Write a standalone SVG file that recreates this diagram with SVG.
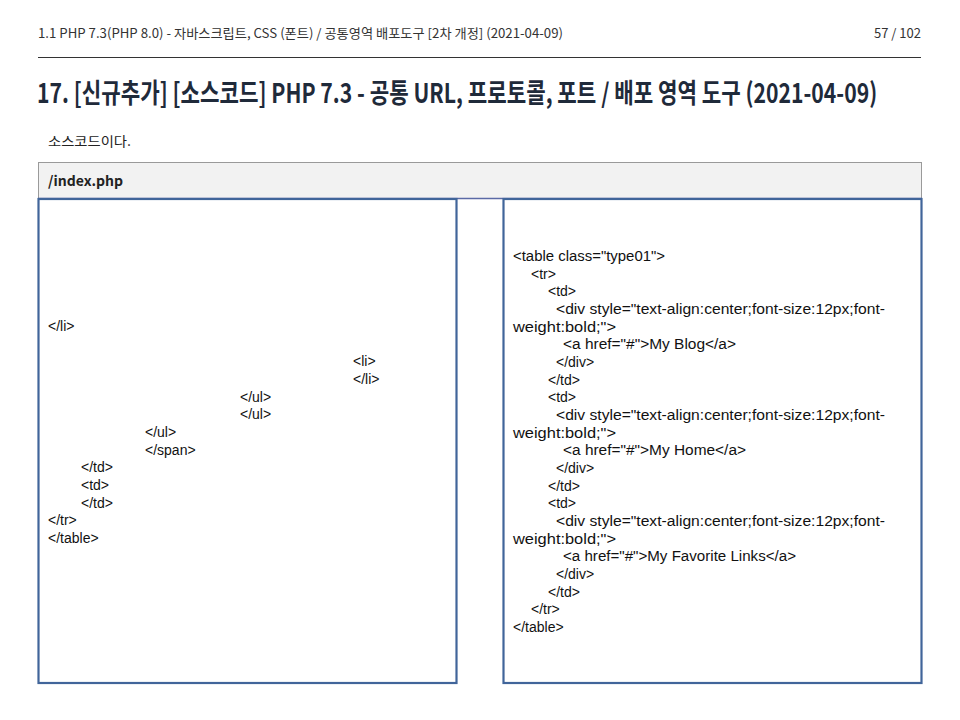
<svg xmlns="http://www.w3.org/2000/svg" width="960" height="720" viewBox="0 0 960 720">
<style>
.hdr{font-family:"Noto Sans CJK KR","Noto Sans",sans-serif;font-size:13px;fill:#333}
.title{font-family:"Noto Sans CJK KR","Noto Sans",sans-serif;font-size:27px;font-weight:bold;fill:#1f2a3a}
.sub{font-family:"Noto Sans CJK KR","Noto Sans",sans-serif;font-size:13px;fill:#222}
.fname{font-family:"Noto Sans CJK KR","Noto Sans",sans-serif;font-size:14px;font-weight:bold;fill:#222}
.code{font-family:"Liberation Sans",Arial,sans-serif;font-size:14px;fill:#111}
.panel{fill:#ffffff;stroke:#41659a;stroke-width:2.2}
</style>
<rect width="960" height="720" fill="#ffffff"/>
<g id="page-header">
<text class="hdr" x="38" y="38" textLength="525" lengthAdjust="spacingAndGlyphs">1.1 PHP 7.3(PHP 8.0) - 자바스크립트, CSS (폰트) / 공통영역 배포도구 [2차 개정] (2021-04-09)</text>
<text class="hdr" x="921" y="38" text-anchor="end">57 / 102</text>
<line x1="38" y1="57.5" x2="921" y2="57.5" stroke="#333" stroke-width="1"/>
</g>
<g id="title">
<text class="title" transform="translate(37,103) scale(0.86,1)" x="0" y="0" textLength="977" lengthAdjust="spacingAndGlyphs">17. [신규추가] [소스코드] PHP 7.3 - 공통 URL, 프로토콜, 포트 / 배포 영역 도구 (2021-04-09)</text>
</g>
<g id="subtitle">
<text class="sub" x="48" y="146" textLength="83" lengthAdjust="spacingAndGlyphs">소스코드이다.</text>
</g>
<g id="file-header">
<rect x="38.5" y="162.5" width="883" height="36" fill="#f2f2f2" stroke="#9a9a9a" stroke-width="1"/>
<line x1="38" y1="198.5" x2="922" y2="198.5" stroke="#5b6aa6" stroke-width="1.5"/>
<text class="fname" x="48" y="186">/index.php</text>
</g>
<g id="left-panel">
<rect class="panel" x="38.5" y="199" width="418" height="484"/>
<text class="code" x="48" y="331">&lt;/li&gt;</text>
<text class="code" x="353" y="366">&lt;li&gt;</text>
<text class="code" x="353" y="384">&lt;/li&gt;</text>
<text class="code" x="240" y="402">&lt;/ul&gt;</text>
<text class="code" x="240" y="419">&lt;/ul&gt;</text>
<text class="code" x="145" y="437">&lt;/ul&gt;</text>
<text class="code" x="145" y="455">&lt;/span&gt;</text>
<text class="code" x="81" y="472">&lt;/td&gt;</text>
<text class="code" x="81" y="490">&lt;td&gt;</text>
<text class="code" x="81" y="508">&lt;/td&gt;</text>
<text class="code" x="48" y="525">&lt;/tr&gt;</text>
<text class="code" x="48" y="543">&lt;/table&gt;</text>
</g>
<g id="right-panel">
<rect class="panel" x="503.5" y="199" width="418" height="484"/>
<text class="code" x="513" y="261" textLength="152" lengthAdjust="spacingAndGlyphs">&lt;table class="type01"&gt;</text>
<text class="code" x="531" y="279">&lt;tr&gt;</text>
<text class="code" x="548" y="296">&lt;td&gt;</text>
<text class="code" x="556" y="314" textLength="329" lengthAdjust="spacingAndGlyphs">&lt;div style="text-align:center;font-size:12px;font-</text>
<text class="code" x="513" y="332" textLength="103" lengthAdjust="spacingAndGlyphs">weight:bold;"&gt;</text>
<text class="code" x="563" y="349" textLength="173" lengthAdjust="spacingAndGlyphs">&lt;a href="#"&gt;My Blog&lt;/a&gt;</text>
<text class="code" x="556" y="367">&lt;/div&gt;</text>
<text class="code" x="548" y="385">&lt;/td&gt;</text>
<text class="code" x="548" y="402">&lt;td&gt;</text>
<text class="code" x="556" y="420" textLength="329" lengthAdjust="spacingAndGlyphs">&lt;div style="text-align:center;font-size:12px;font-</text>
<text class="code" x="513" y="438" textLength="103" lengthAdjust="spacingAndGlyphs">weight:bold;"&gt;</text>
<text class="code" x="563" y="455" textLength="183" lengthAdjust="spacingAndGlyphs">&lt;a href="#"&gt;My Home&lt;/a&gt;</text>
<text class="code" x="556" y="473">&lt;/div&gt;</text>
<text class="code" x="548" y="491">&lt;/td&gt;</text>
<text class="code" x="548" y="508">&lt;td&gt;</text>
<text class="code" x="556" y="526" textLength="329" lengthAdjust="spacingAndGlyphs">&lt;div style="text-align:center;font-size:12px;font-</text>
<text class="code" x="513" y="544" textLength="103" lengthAdjust="spacingAndGlyphs">weight:bold;"&gt;</text>
<text class="code" x="563" y="561" textLength="233" lengthAdjust="spacingAndGlyphs">&lt;a href="#"&gt;My Favorite Links&lt;/a&gt;</text>
<text class="code" x="556" y="579">&lt;/div&gt;</text>
<text class="code" x="548" y="597">&lt;/td&gt;</text>
<text class="code" x="531" y="614">&lt;/tr&gt;</text>
<text class="code" x="513" y="632">&lt;/table&gt;</text>
</g>
</svg>
